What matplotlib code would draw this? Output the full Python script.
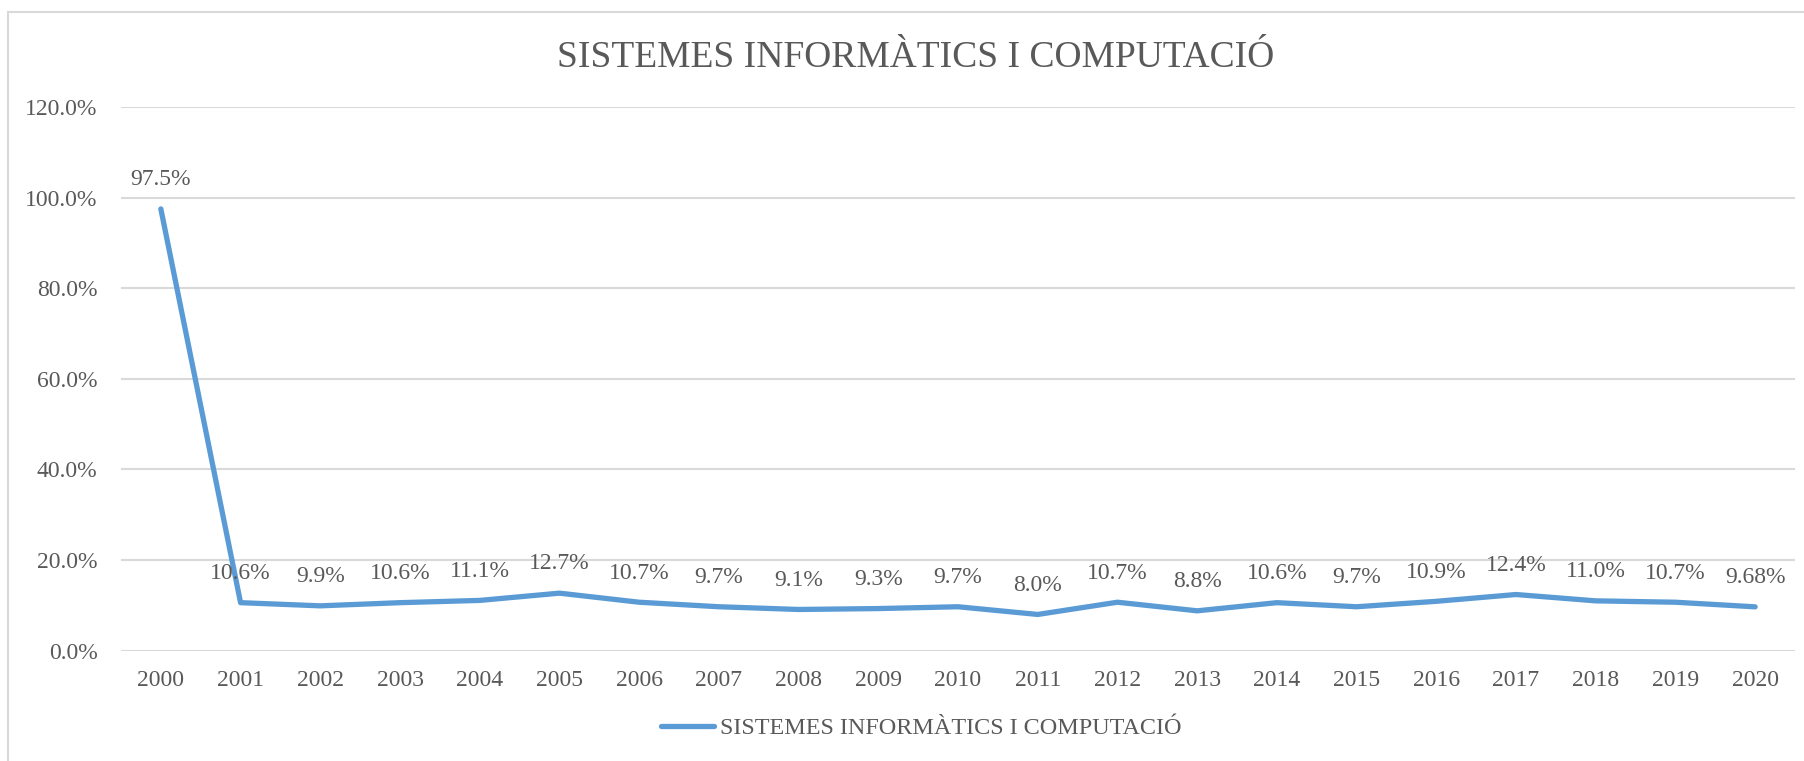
import matplotlib.pyplot as plt
from matplotlib.patches import Rectangle
from matplotlib.ticker import FuncFormatter, MultipleLocator

years = [str(y) for y in range(2000, 2021)]
values = [97.5, 10.6, 9.9, 10.6, 11.1, 12.7, 10.7, 9.7, 9.1, 9.3, 9.7,
          8.0, 10.7, 8.8, 10.6, 9.7, 10.9, 12.4, 11.0, 10.7, 9.68]
labels = ["97.5%", "10.6%", "9.9%", "10.6%", "11.1%", "12.7%", "10.7%", "9.7%",
          "9.1%", "9.3%", "9.7%", "8.0%", "10.7%", "8.8%", "10.6%", "9.7%",
          "10.9%", "12.4%", "11.0%", "10.7%", "9.68%"]
series_name = "SISTEMES INFORMÀTICS I COMPUTACIÓ"

text_col = "#595959"
line_col = "#5B9BD5"
grid_col = "#D9D9D9"

plt.rcParams['font.family'] = ['Liberation Serif', 'DejaVu Serif']

W, H = 1804, 761
fig = plt.figure(figsize=(W / 100, H / 100), dpi=100)

# chart frame (only top and left edges fall inside the picture)
fig.patches.append(Rectangle((8 / W, 0 - 0.1), 1.2, (H - 12) / H + 0.1,
                             transform=fig.transFigure, fill=False,
                             edgecolor=grid_col, linewidth=1.5))

ax = fig.add_axes([121 / W, (H - 650.7) / H, (1795 - 121) / W, (650.7 - 107) / H])
x = list(range(len(years)))
ax.plot(x, values, color=line_col, linewidth=3.8, solid_capstyle='round',
        solid_joinstyle='round', label=series_name, zorder=3)

for xi, v, lab in zip(x, values, labels):
    ax.annotate(lab, (xi, v), xytext=(0, 21), textcoords='offset points',
                ha='center', va='center', fontsize=17, color=text_col, zorder=4)

ax.set_xlim(-0.5, len(years) - 0.5)
ax.set_ylim(0, 120)
ax.yaxis.set_major_locator(MultipleLocator(20))
ax.yaxis.set_major_formatter(FuncFormatter(lambda v, p: f"{v:.1f}%"))
ax.set_xticks(x)
ax.set_xticklabels(years)
ax.tick_params(axis='both', length=0, labelsize=17, labelcolor=text_col)
ax.tick_params(axis='y', pad=17)
ax.tick_params(axis='x', pad=14)
ax.grid(axis='y', color=grid_col, linewidth=1.5)
ax.set_axisbelow(True)
for s in ax.spines.values():
    s.set_visible(False)

fig.text(916 / W, 1 - 57.5 / H, series_name, ha='center', va='center',
         fontsize=27, color=text_col)

fig.legend(loc='center', bbox_to_anchor=(921 / W, 1 - 728 / H), frameon=False,
           fontsize=17.4, labelcolor=text_col, handlelength=2.2, handletextpad=0.25)

fig.savefig("out.png", dpi=100, facecolor='white')
